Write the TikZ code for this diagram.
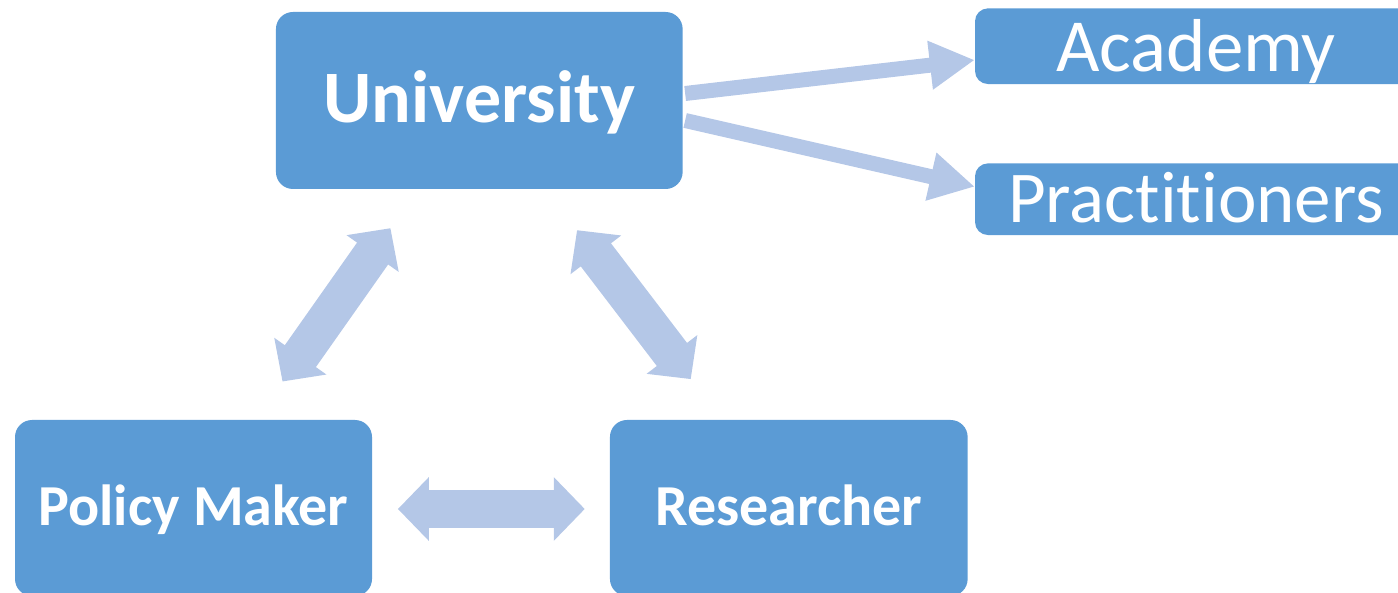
\documentclass[tikz,border=0pt]{standalone}
\usepackage{fontspec}
\setmainfont{Carlito}[RawFeature=-liga]
\usetikzlibrary{arrows.meta,calc}
\definecolor{boxblue}{HTML}{5B9BD5}
\definecolor{arrowblue}{HTML}{B4C7E7}
\begin{document}
\begin{tikzpicture}[x=1pt,y=-1pt,
  box/.style={fill=boxblue, text=white, inner sep=0pt, text depth=0pt, anchor=center},
  bigbox/.style={box, rounded corners=17pt},
  smallbox/.style={box, rounded corners=13pt, font=\fontsize{75}{80}\selectfont},
  dblarrow/.style={draw=arrowblue, line width=38pt,
    {Triangle[width=62pt,length=31pt]}-{Triangle[width=62pt,length=31pt]}},
  sglarrow/.style={draw=arrowblue, line width=15pt,
    -{Triangle[width=46pt,length=45pt]}}]
\useasboundingbox (0,0) rectangle (1398,593);
\clip (0,0) rectangle (1398,593);

% nodes
\node[bigbox, minimum width=406.7pt, minimum height=177pt, text height=43.5pt,
  font=\bfseries\fontsize{74}{80}\selectfont] (univ) at (479.3,100.5) {University};
\node[smallbox, minimum width=442pt, minimum height=75.7pt, text height=51pt] (acad) at (1196,46.2) {Academy};
\node[smallbox, minimum width=442pt, minimum height=71.7pt, text height=47pt,
  font=\fontsize{73}{78}\selectfont] (prac) at (1196,199.2) {Practitioners};
\node[bigbox, minimum width=357pt, minimum height=176pt, text height=34pt,
  font=\bfseries\fontsize{58}{62}\selectfont] (pm) at (193.5,508) {Policy Maker};
\node[bigbox, minimum width=357.7pt, minimum height=176pt, text height=34pt,
  font=\bfseries\fontsize{58}{62}\selectfont] (res) at (788.8,508) {Researcher};

% connectors
\draw[dblarrow] ($(pm.east)+(25.7,1)$) -- ($(res.west)+(-25,1)$);
\draw[dblarrow] ($(univ.south west)+(114.7,39)$) -- ($(pm.north west)+(267.7,-38.3)$);
\draw[dblarrow] ($(univ.south west)+(301.3,41)$) -- ($(res.north west)+(81,-40.7)$);
\draw[sglarrow] ($(univ.east)+(2.3,-7)$) -- ($(acad.west)+(0,13.8)$);
\draw[sglarrow] ($(univ.east)+(2.3,20)$) -- ($(prac.west)+(0,-12.5)$);
\end{tikzpicture}
\end{document}
